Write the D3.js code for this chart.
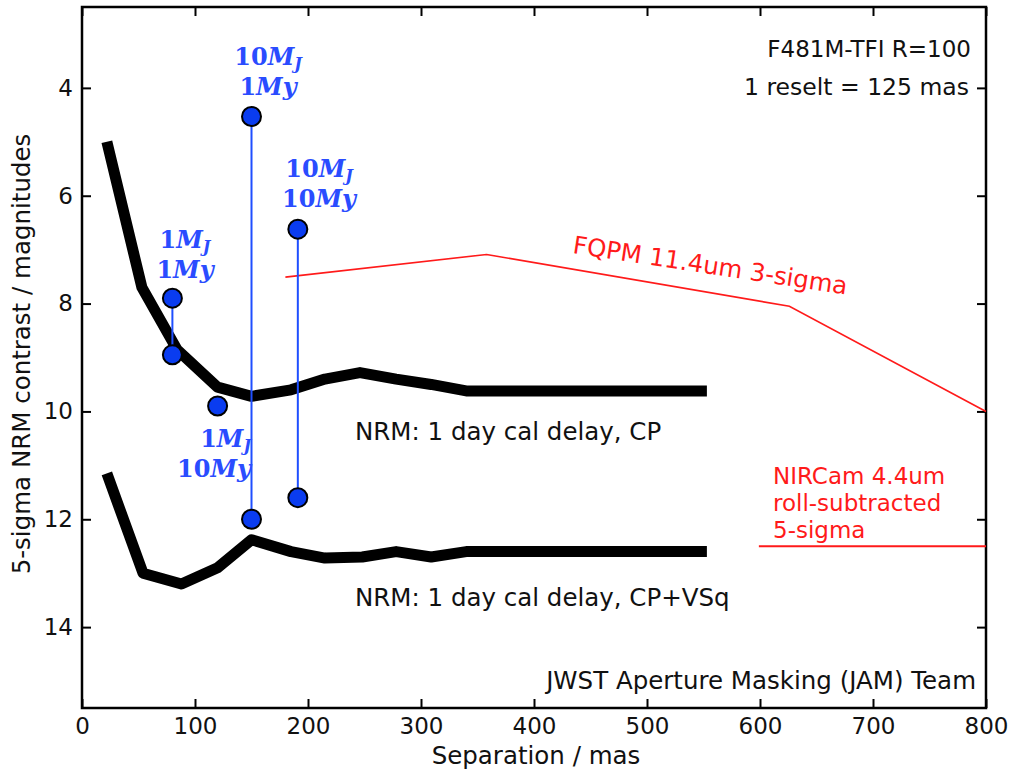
<!DOCTYPE html>
<html>
<head>
<meta charset="utf-8">
<script src="https://cdn.jsdelivr.net/npm/d3@7"></script>
<style>
  body { margin: 0; background: #fff; }
  svg text { font-family: "DejaVu Sans", sans-serif; }
  .math { font-family: "DejaVu Serif", serif; }
</style>
</head>
<body>
<div id="chart"></div>
<script>
// NRM contrast curves (separation in mas, contrast in magnitudes)
const cpSep = [22, 53, 84, 120, 150, 185, 215, 246, 278, 309, 340, 553];
const cpMag = [5.0, 7.7, 8.85, 9.55, 9.72, 9.6, 9.4, 9.28, 9.4, 9.5, 9.62, 9.62];
const vsqSep = [22, 54, 88, 120, 150, 185, 215, 248, 278, 309, 340, 553];
const vsqMag = [11.15, 13.0, 13.2, 12.9, 12.38, 12.6, 12.72, 12.7, 12.6, 12.7, 12.6, 12.6];

// coronagraph curves
const fqpmSep = [180, 358, 626, 800];
const fqpmMag = [7.51, 7.09, 8.05, 10.0];
const nircamSep = [599, 800];
const nircamMag = [12.5, 12.5];

// planet models: separation, top and bottom magnitude
const planetSep = [80, 120, 150, 191];
const planetTop = [7.9, 9.9, 4.53, 6.62];
const planetBot = [8.95, null, 12.0, 11.6];

const xTicks = [0, 100, 200, 300, 400, 500, 600, 700, 800];
const yTicks = [4, 6, 8, 10, 12, 14];

const W = 1013, H = 769;
const margin = {top: 7, right: 27, bottom: 61, left: 82};
const width = W - margin.left - margin.right,
      height = H - margin.top - margin.bottom;
const FS = 24.5;

const svg = d3.select("#chart").append("svg")
  .attr("width", W).attr("height", H);
const g = svg.append("g")
  .attr("transform", "translate(" + margin.left + "," + margin.top + ")");

const x = d3.scaleLinear().domain([0, 800]).range([0, width]);
const y = d3.scaleLinear().domain([2.5, 15.5]).range([0, height]);

// axes, ticks inside on all four sides
g.append("g").attr("transform", "translate(0," + height + ")")
  .call(d3.axisBottom(x).tickValues(xTicks).tickSizeInner(-9).tickSizeOuter(0).tickPadding(10));
g.append("g")
  .call(d3.axisTop(x).tickValues(xTicks).tickSizeInner(-9).tickSizeOuter(0).tickFormat(""));
g.append("g")
  .call(d3.axisLeft(y).tickValues(yTicks).tickSizeInner(-9).tickSizeOuter(0).tickPadding(9));
g.append("g").attr("transform", "translate(" + width + ",0)")
  .call(d3.axisRight(y).tickValues(yTicks).tickSizeInner(-9).tickSizeOuter(0).tickFormat(""));
g.selectAll(".tick line").attr("stroke", "#000").attr("stroke-width", 2);
g.selectAll(".domain").remove();
g.selectAll(".tick text")
  .attr("font-size", 23).attr("fill", "#111")
  .style("font-family", "'DejaVu Sans', sans-serif");
g.append("rect").attr("width", width).attr("height", height)
  .attr("fill", "none").attr("stroke", "#000").attr("stroke-width", 2.5);

// axis titles
svg.append("text").attr("x", 536).attr("y", 764)
  .attr("text-anchor", "middle").attr("font-size", FS).attr("fill", "#111")
  .text("Separation / mas");
svg.append("text")
  .attr("transform", "translate(30," + 354 + ") rotate(-90)")
  .attr("text-anchor", "middle").attr("font-size", FS).attr("fill", "#111")
  .text("5-sigma NRM contrast / magnitudes");

const line = d3.line().x(d => x(d[0])).y(d => y(d[1]));

// coronagraph lines
g.append("path").datum(d3.zip(fqpmSep, fqpmMag))
  .attr("d", line).attr("fill", "none").attr("stroke", "#ff1a1a").attr("stroke-width", 1.6);
g.append("path").datum(d3.zip(nircamSep, nircamMag))
  .attr("d", line).attr("fill", "none").attr("stroke", "#ff1a1a").attr("stroke-width", 2);

// NRM curves
[d3.zip(cpSep, cpMag), d3.zip(vsqSep, vsqMag)].forEach(data => {
  g.append("path").datum(data)
    .attr("d", line).attr("fill", "none").attr("stroke", "#000")
    .attr("stroke-width", 11).attr("stroke-linejoin", "round");
});

// planet stems and dots
planetSep.forEach((s, i) => {
  if (planetBot[i] != null) {
    g.append("line")
      .attr("x1", x(s)).attr("x2", x(s))
      .attr("y1", y(planetTop[i])).attr("y2", y(planetBot[i]))
      .attr("stroke", "#1f4fff").attr("stroke-width", 2);
  }
});
const dots = [];
planetSep.forEach((s, i) => {
  dots.push([s, planetTop[i]]);
  if (planetBot[i] != null) dots.push([s, planetBot[i]]);
});
g.selectAll(".dot").data(dots).enter().append("circle")
  .attr("class", "dot")
  .attr("cx", d => x(d[0])).attr("cy", d => y(d[1]))
  .attr("r", 9.5).attr("fill", "#0a3cf0").attr("stroke", "#000").attr("stroke-width", 2);

// planet labels (mass / age)
function mathLabel(px, py, mass, age, anchor) {
  const t1 = svg.append("text").attr("class", "math")
    .attr("x", px).attr("y", py).attr("text-anchor", anchor)
    .attr("font-size", 24).attr("font-weight", "bold").attr("fill", "#2a4cff");
  t1.append("tspan").text(mass);
  t1.append("tspan").attr("font-style", "italic").text("M");
  t1.append("tspan").attr("font-style", "italic").attr("font-size", 16).attr("dy", 4).text("J");
  const t2 = svg.append("text").attr("class", "math")
    .attr("x", px).attr("y", py + 30).attr("text-anchor", anchor)
    .attr("font-size", 24).attr("font-weight", "bold").attr("fill", "#2a4cff");
  t2.append("tspan").text(age);
  t2.append("tspan").attr("font-style", "italic").text("My");
}
mathLabel(268, 65, "10", "1", "middle");
mathLabel(319, 177, "10", "10", "middle");
mathLabel(185, 248, "1", "1", "middle");
mathLabel(251, 447, "1", "10", "end");

// annotations
const ann = [
  ["F481M-TFI  R=100", 971, 57, "end", "#111", 23],
  ["1 reselt = 125 mas", 969, 95, "end", "#111", 23.5],
  ["NRM: 1 day cal delay, CP", 355, 440, "start", "#111", FS],
  ["NRM: 1 day cal delay, CP+VSq", 355, 606, "start", "#111", FS],
  ["JWST Aperture Masking (JAM) Team", 976, 689, "end", "#111", FS],
  ["NIRCam 4.4um", 773, 484, "start", "#ff1a1a", 23],
  ["roll-subtracted", 773, 511, "start", "#ff1a1a", 23],
  ["5-sigma", 773, 538, "start", "#ff1a1a", 23]
];
ann.forEach(a => {
  svg.append("text").attr("x", a[1]).attr("y", a[2])
    .attr("text-anchor", a[3]).attr("font-size", a[5]).attr("fill", a[4]).text(a[0]);
});
svg.append("text")
  .attr("transform", "translate(572,253) rotate(8.6)")
  .attr("font-size", FS).attr("fill", "#ff1a1a")
  .text("FQPM 11.4um 3-sigma");
</script>
</body>
</html>
